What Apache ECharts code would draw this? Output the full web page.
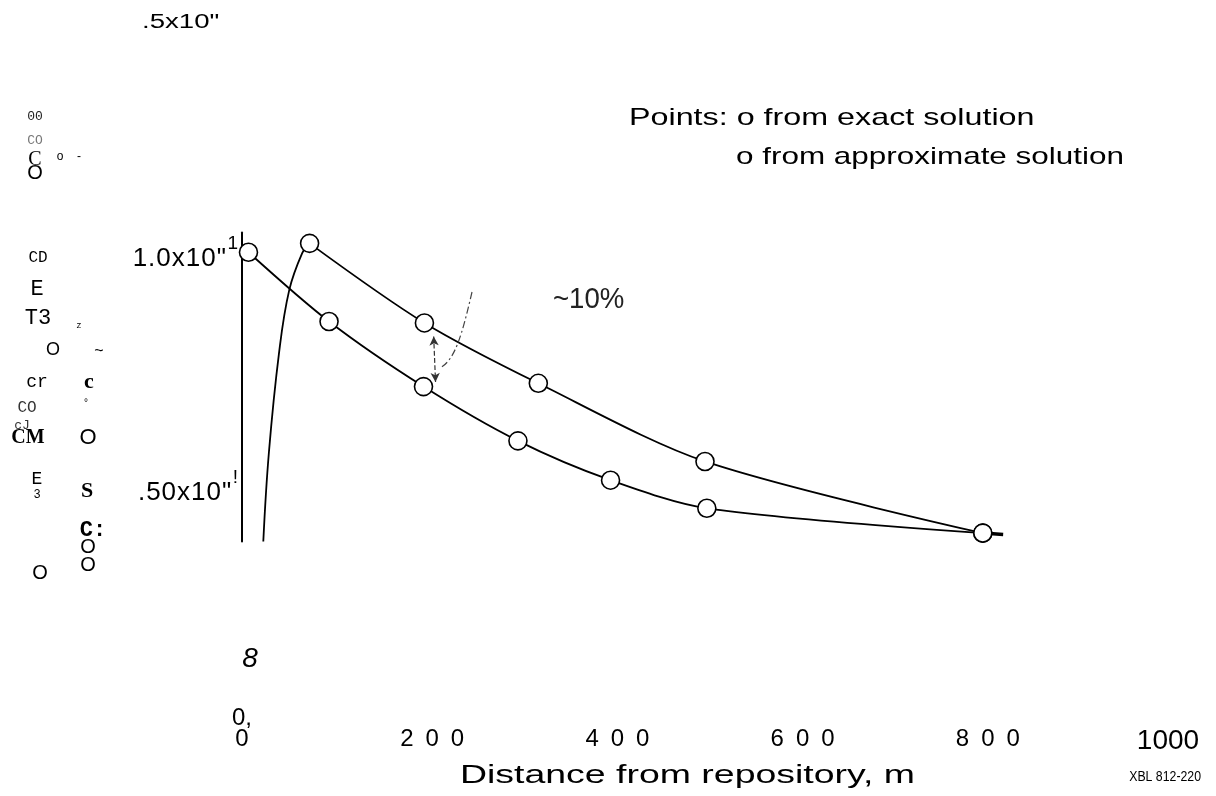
<!DOCTYPE html>
<html><head><meta charset="utf-8">
<script src="https://cdn.jsdelivr.net/npm/echarts@6/dist/echarts.min.js"></script>
<style>html,body{margin:0;padding:0;background:#fff}#c{width:1216px;height:796px}</style>
</head><body><div id="c"></div>
<script>
// ---- data ----
const xTicks = [0, 200, 400, 600, 800, 1000];
const yTickValues = [0.5, 1.0];
const yTickLabels = ['.50x10"', '1.0x10"'];
const yTickMarks = ['!', '1'];
// approximate solution (lower curve)
const approxX = [7, 94, 196, 298, 398, 502, 800];
const approxY = [1.008, 0.860, 0.721, 0.605, 0.521, 0.461, 0.408];
// exact solution (upper curve)
const exactX = [73, 197, 320, 500, 800];
const exactY = [1.027, 0.857, 0.728, 0.561, 0.408];
// steep rising branch of the exact curve
const riseX = [23, 29, 40, 51, 65, 73];
const riseY = [0.39, 0.579, 0.793, 0.927, 1.006, 1.027];
// short tail past the last point
const tailX = [800, 822];
const tailY = [0.408, 0.405];
// ~10% arrow between curves
const arrowX = [207, 209];
const arrowY = [0.828, 0.731];
const annoText = '~10%';
const xName = 'Distance from repository, m';
const legendLines = ['Points: o from exact solution', 'o from approximate solution'];
const topText = '.5x10"';
const figId = 'XBL 812-220';
const strayTexts = ['00','CO','o','-','C','O','CD','E','T3','z','O','~','cr','c','CO','°','cJ','CM','O','E','3','S','C:','O','O','O','8','0,'];

const zip = (a, b) => a.map((v, i) => [v, b[i]]);

const chart = echarts.init(document.getElementById('c'), null, {renderer: 'canvas'});
const SANS = 'Liberation Sans, Arial, sans-serif';
const MONO = 'Liberation Mono, Courier New, monospace';
const SERIF = 'Liberation Serif, Times New Roman, serif';

function txt(text, x, y, o) {
  o = o || {};
  return {
    type: 'text', x: x, y: y, scaleX: o.sx || 1, z: 10,
    style: {
      text: text, fill: o.color || '#000',
      fontSize: o.fs || 20, fontFamily: o.ff || SANS,
      fontWeight: o.fw || 'normal', fontStyle: o.it ? 'italic' : 'normal',
      align: o.align || 'center', verticalAlign: 'middle'
    }
  };
}

// stray scanned glyphs (position, size, font)
const strayPos = [
  [35,117,13,MONO,'#222'],[35,141,13,MONO,'#777'],[60,157,12,SANS,'#000'],[79,157,12,SANS,'#000'],
  [35,160,20,SERIF,'#000'],[35,173,20,SANS,'#000'],[38,258,16,MONO,'#000'],[37,289,22,MONO,'#000'],
  [38,318,22,MONO,'#000'],[79,326,9,MONO,'#000'],[53,350,18,SANS,'#000'],[99,352,16,SANS,'#000'],
  [37,382,18,MONO,'#000'],[89,382,22,SERIF,'#000','bold'],[27,408,16,MONO,'#333'],[86,403,10,SANS,'#000'],
  [22,426,13,MONO,'#333'],[28,438,20,SERIF,'#000','bold'],[88,438,22,SANS,'#000'],[37,479,18,MONO,'#000'],
  [37,495,12,MONO,'#000'],[87,491,22,SERIF,'#000','bold'],[93,530,22,MONO,'#000','bold'],[88,547,20,SANS,'#000'],
  [88,565,20,SANS,'#000'],[40,573,20,SANS,'#000'],[250,659,28,SANS,'#000',null,true],[242,718,24,SANS,'#000']
];
const graphics = strayTexts.map((t, i) => {
  const p = strayPos[i];
  return txt(t, p[0], p[1], {fs: p[2], ff: p[3], color: p[4], fw: p[5] || 'normal', it: p[6]});
});
graphics.push(txt(topText, 142, 22, {fs: 20, align: 'left', sx: 1.38}));
graphics.push(txt(legendLines[0], 629, 118, {fs: 24, align: 'left', sx: 1.345}));
graphics.push(txt(legendLines[1], 736, 157, {fs: 24, align: 'left', sx: 1.31}));
graphics.push(txt(annoText, 553, 300, {fs: 30, align: 'left', sx: 0.92, color: '#222'}));
graphics.push(txt(xName, 460, 776, {fs: 26, align: 'left', sx: 1.44}));
graphics.push(txt(figId, 1201, 777, {fs: 15, align: 'right', sx: 0.82}));
graphics.push({
  type: 'bezierCurve', z: 10,
  shape: {x1: 472, y1: 292, cpx1: 462, cpy1: 335, cpx2: 455, cpy2: 360, x2: 440, y2: 368},
  style: {stroke: '#444', lineWidth: 1.2, lineDash: [7, 3, 2, 3], fill: null}
});

const lineStyle = {color: '#000', width: 1.8};
const markerStyle = {color: '#fff', borderColor: '#000', borderWidth: 1.6};
const charTokens = (s, tok) => s.split('').map(c => '{' + tok + '|' + c + '}').join('');

chart.setOption({
  animation: false,
  backgroundColor: '#fff',
  grid: {left: 242, right: 48, top: 232.6, bottom: 796 - 541.5},
  xAxis: {
    type: 'value', min: 0, max: 1000, interval: 200,
    axisLine: {show: false}, axisTick: {show: false}, splitLine: {show: false},
    axisLabel: {
      margin: 186,
      formatter: v => {
        if (v === 1000) return '{w|1000}';
        if (v === 0) return '{z|0}';
        const d = String(v).split('');
        return d.map((c, i) => (i === 0 ? '{f|' : '{d|') + c + '}').join('');
      },
      rich: {
        d: {fontSize: 24, fontFamily: SANS, color: '#000', padding: [0, 6, 0, 6]},
        f: {fontSize: 24, fontFamily: SANS, color: '#000', padding: [0, 6, 0, 16]},
        w: {fontSize: 28, fontFamily: SANS, color: '#000', padding: [0, 0, 6, 0]},
        z: {fontSize: 24, fontFamily: SANS, color: '#000'}
      }
    }
  },
  yAxis: {
    type: 'value', min: 0.39, max: 1.05,
    axisLine: {show: true, lineStyle: {color: '#000', width: 2}},
    axisTick: {show: false}, splitLine: {show: false},
    axisLabel: {
      customValues: yTickValues,
      margin: 4,
      formatter: v => {
        const i = yTickValues.findIndex(t => Math.abs(t - v) < 1e-6);
        return i < 0 ? '' : charTokens(yTickLabels[i], 'a') + '{s|' + yTickMarks[i] + '}';
      },
      rich: {
        a: {fontSize: 26, fontFamily: SANS, color: '#000', padding: [6, 0.5, 0, 0.5]},
        s: {fontSize: 19, fontFamily: SANS, color: '#000', padding: [0, 0, 24, 1]}
      }
    }
  },
  series: [
    {type: 'line', name: 'rise', data: zip(riseX, riseY), showSymbol: false, smooth: 0.4,
     lineStyle: lineStyle, z: 2},
    {type: 'line', name: 'tail', data: zip(tailX, tailY), showSymbol: false,
     lineStyle: {color: '#000', width: 3.5}, z: 2},
    {type: 'line', name: 'exact', data: zip(exactX, exactY), symbol: 'circle', symbolSize: 18,
     smooth: 0.3, lineStyle: lineStyle, itemStyle: markerStyle, z: 3},
    {type: 'line', name: 'approximate', data: zip(approxX, approxY), symbol: 'circle', symbolSize: 18,
     smooth: 0.3, lineStyle: lineStyle, itemStyle: markerStyle, z: 3,
     markLine: {
       silent: true, symbol: ['arrow', 'arrow'], symbolSize: [7, 9],
       label: {show: false},
       lineStyle: {type: 'dashed', color: '#333', width: 1.2},
       data: [[{coord: [arrowX[0], arrowY[0]]}, {coord: [arrowX[1], arrowY[1]]}]]
     }}
  ],
  graphic: graphics
});
</script>
</body></html>
